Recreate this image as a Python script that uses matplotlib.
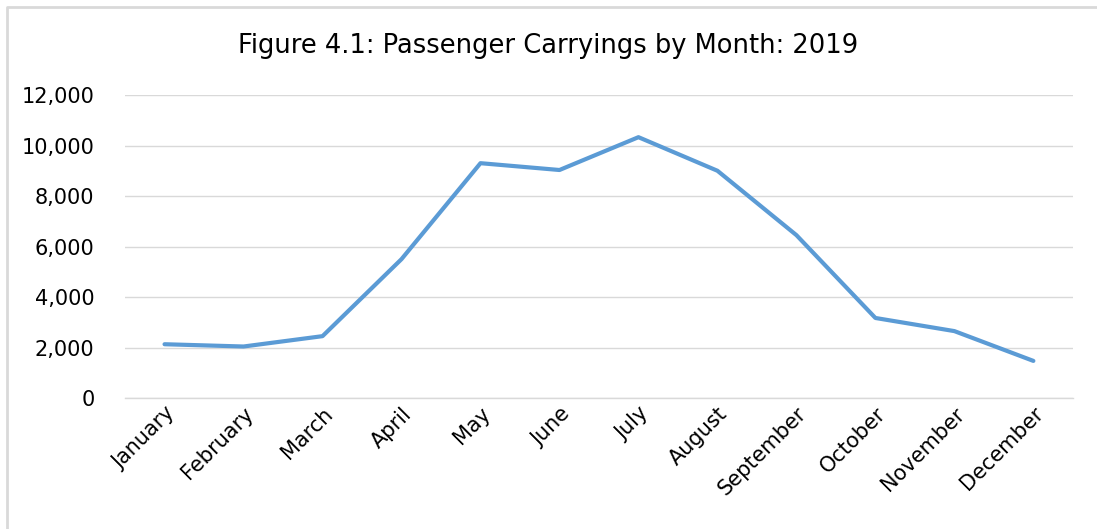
import matplotlib
matplotlib.use("Agg")
import matplotlib.pyplot as plt
from matplotlib.lines import Line2D
from matplotlib.ticker import FuncFormatter

# Passenger carryings by month, 2019
months = ["January", "February", "March", "April", "May", "June",
          "July", "August", "September", "October", "November", "December"]
passengers = [2130, 2040, 2450, 5500, 9300, 9030, 10330, 9000, 6450, 3170, 2650, 1470]
yticks = [0, 2000, 4000, 6000, 8000, 10000, 12000]

fig = plt.figure(figsize=(10.97, 5.29), dpi=100)
ax = fig.add_axes([0.114, 0.2476, 0.864, 0.5728])

ax.plot(range(len(months)), passengers, color="#5B9BD5", lw=3.0,
        solid_joinstyle="round", solid_capstyle="round", zorder=3)

ax.set_xlim(-0.5, len(months) - 0.5)
ax.set_ylim(0, 12000)
ax.set_yticks(yticks)
ax.yaxis.set_major_formatter(FuncFormatter(lambda v, p: f"{int(v):,}"))
ax.set_xticks(range(len(months)))
ax.set_xticklabels(months, rotation=45, ha="right", rotation_mode="anchor")

ax.grid(axis="y", color="#D9D9D9", lw=1.0)
ax.axhline(0, color="#D9D9D9", lw=1.0, clip_on=False, zorder=1)
ax.set_axisbelow(True)
for s in ax.spines.values():
    s.set_visible(False)
ax.tick_params(axis="both", length=0, labelsize=15, colors="black")
ax.tick_params(axis="y", pad=22)
ax.tick_params(axis="x", pad=4)

fig.text(0.5, 0.913, "Figure 4.1: Passenger Carryings by Month: 2019",
         ha="center", va="center", fontsize=18.5)

# light chart border, only top and left edges are inside the picture
bx = 7 / 1097
by = 1 - 7 / 529
fig.lines.append(Line2D([bx, bx, 1.0], [0.0, by, by], transform=fig.transFigure,
                        color="#D9D9D9", lw=2))

fig.savefig("out.png", dpi=100)
